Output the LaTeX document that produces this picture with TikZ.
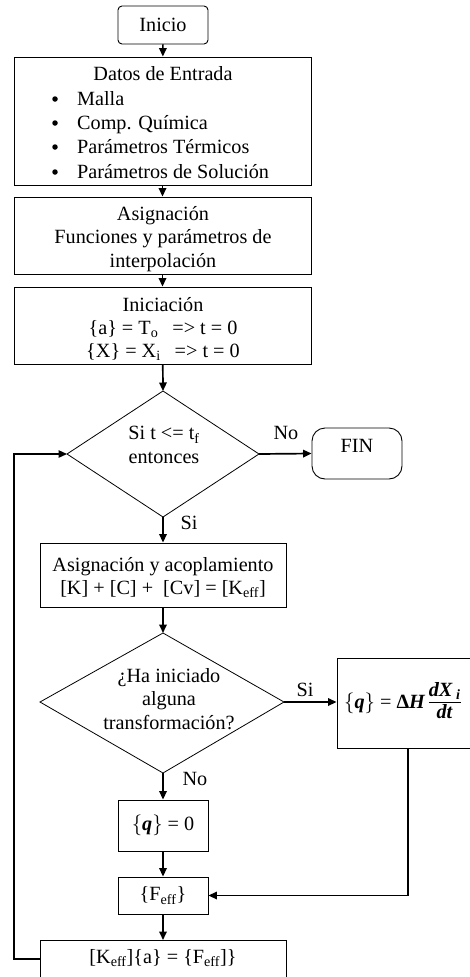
\documentclass[tikz,border=0pt]{standalone}
\usepackage{fontspec}
\setmainfont{Liberation Serif}
\usetikzlibrary{arrows.meta}
\newcommand{\bi}[1]{\textbf{\textit{#1}}}
\begin{document}
\begin{tikzpicture}[x=1pt,y=-1pt,
  font=\fontsize{20.2}{23.3}\selectfont,
  box/.style={draw,line width=0.9pt,inner sep=0pt,align=center},
  flow/.style={line width=1.7pt,-{Triangle[length=8.5pt,width=7.5pt]}},
  lbl/.style={inner sep=0pt,align=center},
  item/.style={inner sep=0pt,anchor=base west},
  bul/.style={fill,circle,inner sep=0pt,minimum size=5.5pt}]
\useasboundingbox (0,0) rectangle (470,977);
\clip (0,0) rectangle (470,977);
\fill[white] (0,0) rectangle (470,977);

% start
\node[box,rounded corners=4pt,minimum width=90pt,minimum height=38pt] (inicio) at (163,25) {Inicio};

% input data
\node[box,minimum width=297pt,minimum height=128pt] (datos) at (162.5,121) {};
\node[lbl,anchor=base] (datoshead) at (163,80) {Datos de Entrada};
\node[item] (it1) at (77,105) {Malla};
\node[item] (it2) at (77,129) {Comp. Química};
\node[item] (it3) at (77,153) {Parámetros Térmicos};
\node[item] (it4) at (77,178) {Parámetros de Solución};
\node[bul] (b1) at (55,99) {};
\node[bul] (b2) at (55,123) {};
\node[bul] (b3) at (55,147) {};
\node[bul] (b4) at (55,172) {};

% assignment
\node[box,minimum width=297pt,minimum height=77pt] (asig) at (162.5,235.5) {};
\node[lbl] (asigtxt) at (163,239) {Asignación\\Funciones y parámetros de\\interpolación};

% initialisation
\node[box,minimum width=297pt,minimum height=77pt] (inic) at (162.5,325.5) {};
\node[lbl] (inictxt) at (163,329)
  {Iniciación\\
   \{a\} = T\textsubscript{o}\hspace{14pt}=> t = 0\\
   \{X\} = X\textsubscript{i}\hspace{14pt}=> t = 0};

% time decision
\coordinate (d1t) at (163,391);
\coordinate (d1r) at (259,454);
\coordinate (d1b) at (163,517);
\coordinate (d1l) at (67,454);
\draw[line width=0.8pt] (d1t) -- (d1r) -- (d1b) -- (d1l) -- cycle;
\node[lbl] (d1) at (164,445) {Si t <= t\textsubscript{f}\\entonces};

% end
\node[box,rounded corners=13pt,minimum width=90pt,minimum height=51pt] (fin) at (357,453.5) {};
\node[lbl] (fintxt) at (357,446) {FIN};

% assembly
\node[box,minimum width=246pt,minimum height=64pt] (acop) at (163,575) {};
\node[lbl] (acoptxt) at (163,577.5)
  {Asignación y acoplamiento\\{}[K] + [C] +\ \ [Cv] = [K\textsubscript{eff}]};

% transformation decision
\coordinate (d2t) at (163,633);
\coordinate (d2r) at (284,702);
\coordinate (d2b) at (163,773);
\coordinate (d2l) at (40,702);
\draw[line width=0.8pt] (d2t) -- (d2r) -- (d2b) -- (d2l) -- cycle;
\node[lbl] (d2) at (169,699) {¿Ha iniciado\\alguna\\transformación?};

% heat source
\node[box,minimum width=150pt,minimum height=90pt] (qbox) at (412,703) {};
\node[lbl,anchor=west] (qtxt) at (344,703)
  {$\{$\bi{q}$\}$ = \textbf{Δ}\bi{H}\,\begin{tabular}{@{}c@{}}\bi{dX}\,\textsubscript{\bi{i}}\\[-2pt]\hline\bi{dt}\end{tabular}};
\coordinate (qout) at (408,748);

% zero source
\node[box,minimum width=90pt,minimum height=51pt] (q0) at (163,825.5) {$\{$\bi{q}$\}$ = 0};

% load vector
\node[box,minimum width=90pt,minimum height=37pt] (feff) at (163,895.5) {\{F\textsubscript{eff}\}};

% solve
\node[box,minimum width=246pt,minimum height=56pt,anchor=north] (solve) at (163,940) {};
\node[lbl] (solvetxt) at (163,958) {[K\textsubscript{eff}]\{a\} = \{F\textsubscript{eff}]\}};
\coordinate (solvel) at (40,959);

% connectors
\draw[flow] (inicio) -- (datos);
\draw[flow] (datos) -- (asig);
\draw[flow] (asig) -- (inic);
\draw[flow] (inic) -- (d1t);
\draw[flow] (d1r) -- (fin.west);
\draw[flow] (d1b) -- (acop);
\draw[flow] (acop) -- (d2t);
\draw[flow] (d2r) -- (d2r -| qbox.west);
\draw[flow] (d2b) -- (q0);
\draw[flow] (q0) -- (feff);
\draw[flow] (feff) -- (solve);
\draw[flow] (qout) |- (feff.east);
\draw[line width=1.3pt,-{Triangle[length=8.5pt,width=7.5pt]}] (solvel) -| (14,454) -- (d1l);

% branch labels
\node[lbl] (no1) at (286,433) {No};
\node[lbl] (si1) at (189,523) {Si};
\node[lbl] (si2) at (305,690) {Si};
\node[lbl] (no2) at (195,779) {No};
\end{tikzpicture}
\end{document}
